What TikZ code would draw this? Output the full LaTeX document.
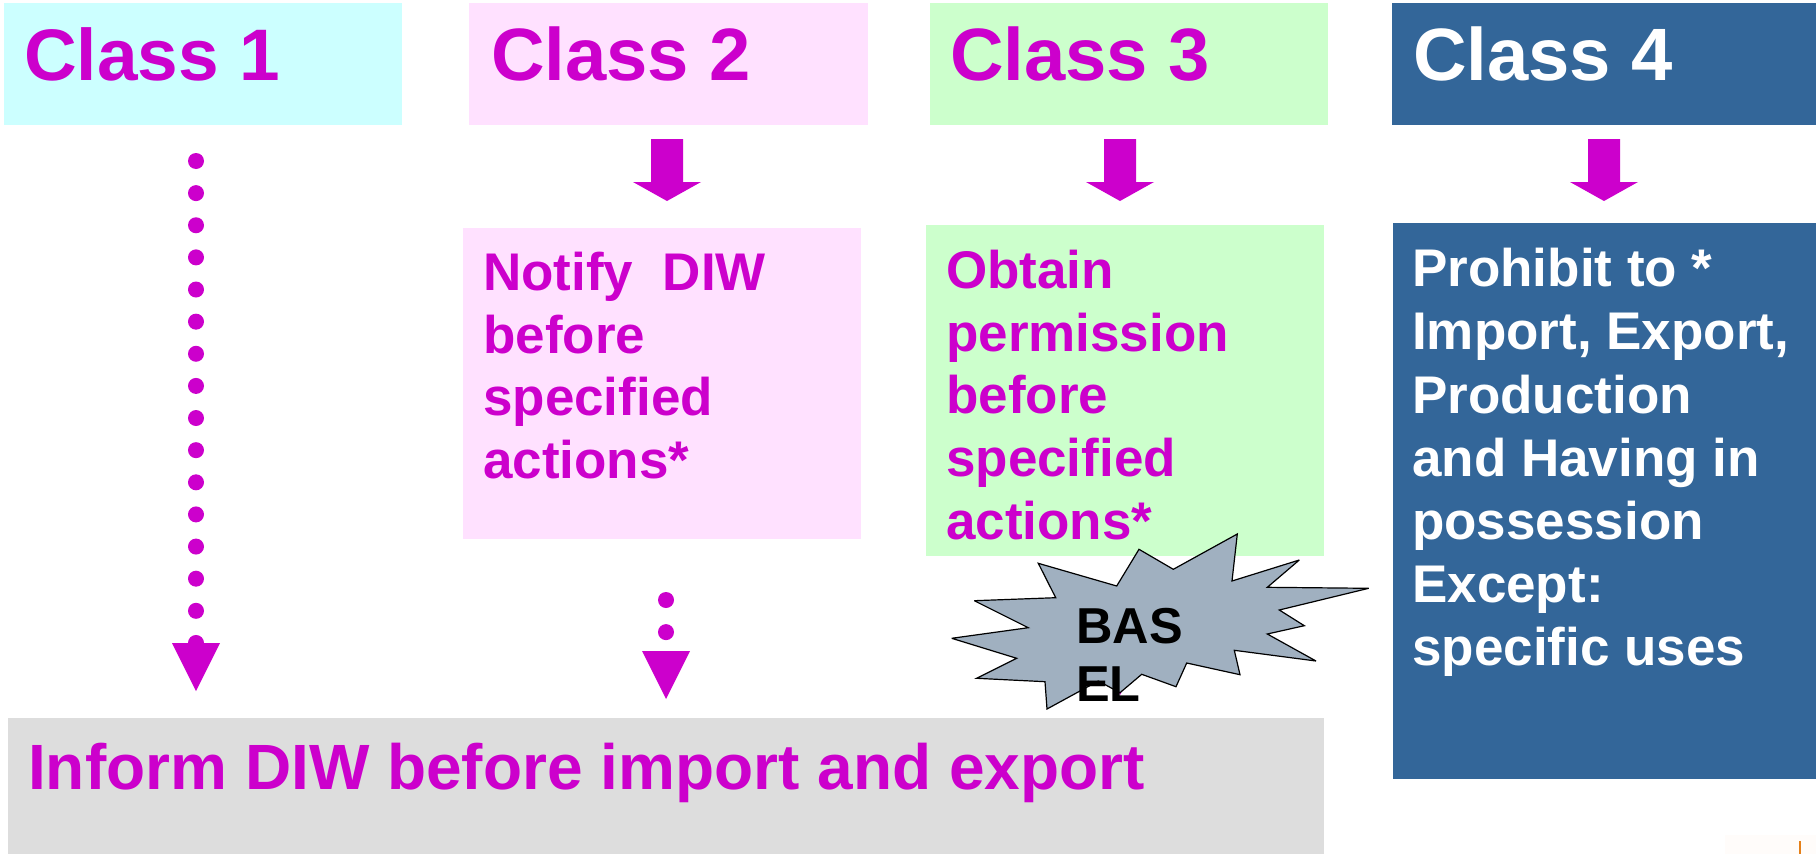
\documentclass[tikz,border=0pt]{standalone}
\usepackage{fontspec}
\setmainfont{Liberation Sans}
\definecolor{mag}{HTML}{CC00CC}
\definecolor{cOne}{HTML}{CCFFFF}
\definecolor{cTwo}{HTML}{FFE1FF}
\definecolor{cThree}{HTML}{CCFFCC}
\definecolor{cFour}{HTML}{336699}
\definecolor{cGrey}{HTML}{DDDDDD}
\definecolor{cStar}{HTML}{A0B0C0}
\newcommand{\headfont}{\bfseries\fontsize{74.2}{80}\selectfont}
\newcommand{\bodyfont}[1]{\bfseries\fontsize{53}{#1}\selectfont}
\tikzset{
  x=1pt,y=-1pt,
  panel/.style={rectangle,draw=none,inner sep=0pt,outer sep=0pt,anchor=north west},
  headtext/.style={inner sep=0pt,anchor=base west,text=mag,font=\headfont},
  bodytext/.style={inner sep=0pt,anchor=north west,align=left,text=mag},
  dotline/.style={draw=mag,line width=16pt,line cap=round,dash pattern=on 0pt off 32.13pt},
  blockdown/.pic={\fill[mag] (-16,0)--(16,0)--(16,43)--(34,43)--(0,62)--(-34,43)--(-16,43)--cycle;},
  tridown/.pic={\fill[mag] (-24,0)--(24,0)--(0,48)--cycle;}
}
\begin{document}
\begin{tikzpicture}
\useasboundingbox (0,0) rectangle (1816,854);
\fill[white] (0,0) rectangle (1816,854);
% faint corner remnant
\fill[white!98!orange] (1725,835) rectangle (1816,854);
\draw[orange!60!brown,line width=1.2pt] (1800,841)--(1800,854);
% panels
\node[panel,fill=cOne,minimum width=398pt,minimum height=122pt] (c1) at (4,3) {};
\node[panel,fill=cTwo,minimum width=399pt,minimum height=122pt] (c2) at (469,3) {};
\node[panel,fill=cThree,minimum width=398pt,minimum height=122pt] (c3) at (930,3) {};
\node[panel,fill=cFour,minimum width=424pt,minimum height=122pt] (c4) at (1392,3) {};
\node[panel,fill=cTwo,minimum width=398pt,minimum height=311pt] (b2) at (463,228) {};
\node[panel,fill=cThree,minimum width=398pt,minimum height=331pt] (b3) at (926,225) {};
\node[panel,fill=cFour,minimum width=423pt,minimum height=556pt] (b4) at (1393,223) {};
\node[panel,fill=cGrey,minimum width=1316pt,minimum height=136pt] (inf) at (8,718) {};
% headers
\node[headtext,font=\bfseries\fontsize{73}{80}\selectfont] (t1) at (24,80) {Class 1};
\node[headtext] (t2) at (491,80) {Class 2};
\node[headtext] (t3) at (950,80) {Class 3};
\node[headtext,text=white] (t4) at (1413,80) {Class 4};
% body text
\node[bodytext,font=\bodyfont{62.6}] (n2) at (483,252) {Notify\ \ DIW\\before\\specified\\actions*};
\node[bodytext,font=\bodyfont{62.6}] (n3) at (946,250) {Obtain\\permission\\before\\specified\\actions*};
\node[bodytext,text=white,font=\bodyfont{63.2}] (n4) at (1412,248) {Prohibit to *\\Import, Export,\\Production\\and Having in\\possession\\Except:\\specific uses};
\node[headtext,font=\bfseries\fontsize{64}{70}\selectfont] (n5) at (28,789) {Inform DIW before import and export};
% arrows
\pic at (667,139) {blockdown};
\pic at (1120,139) {blockdown};
\pic at (1604,139) {blockdown};
\coordinate (d1a) at (196,161);
\coordinate (d1b) at (196,650);
\coordinate (d2a) at (666,600);
\coordinate (d2b) at (666,640);
\draw[dotline] (d1a)--(d1b);
\draw[dotline] (d2a)--(d2b);
\pic at (196,643) {tridown};
\pic at (666,651) {tridown};
\pic at (1120,647) {tridown};
% star
\path[draw=black,fill=cStar,line width=1.2pt,line join=miter,miter limit=4]
 (1038.3,563.3)--(1116.7,586)--(1139,549.3)--(1173.3,569.3)--(1237.3,534)--(1232,581)--(1299.3,560)--(1267.3,587.3)--(1368.7,588.3)--(1279.3,610)--(1304.3,625.7)--(1267.3,634)--(1316,661)--(1234.3,650.3)--(1240,674.7)--(1186.7,663)--(1176,686.7)--(1141.7,674.3)--(1120,692.7)--(1098.3,681)--(1047,709)--(1045,681.7)--(976.7,678.3)--(1016.7,658.3)--(951.7,638.3)--(1028.3,627.7)--(974.3,600.7)--(1055.7,597.7)--cycle;
\node[inner sep=0pt,anchor=base west,font=\bfseries\fontsize{50.5}{58}\selectfont] (s1) at (1076,643) {BAS};
\node[inner sep=0pt,anchor=base west,font=\bfseries\fontsize{50.5}{58}\selectfont] (s2) at (1076,701) {EL};
\end{tikzpicture}
\end{document}
